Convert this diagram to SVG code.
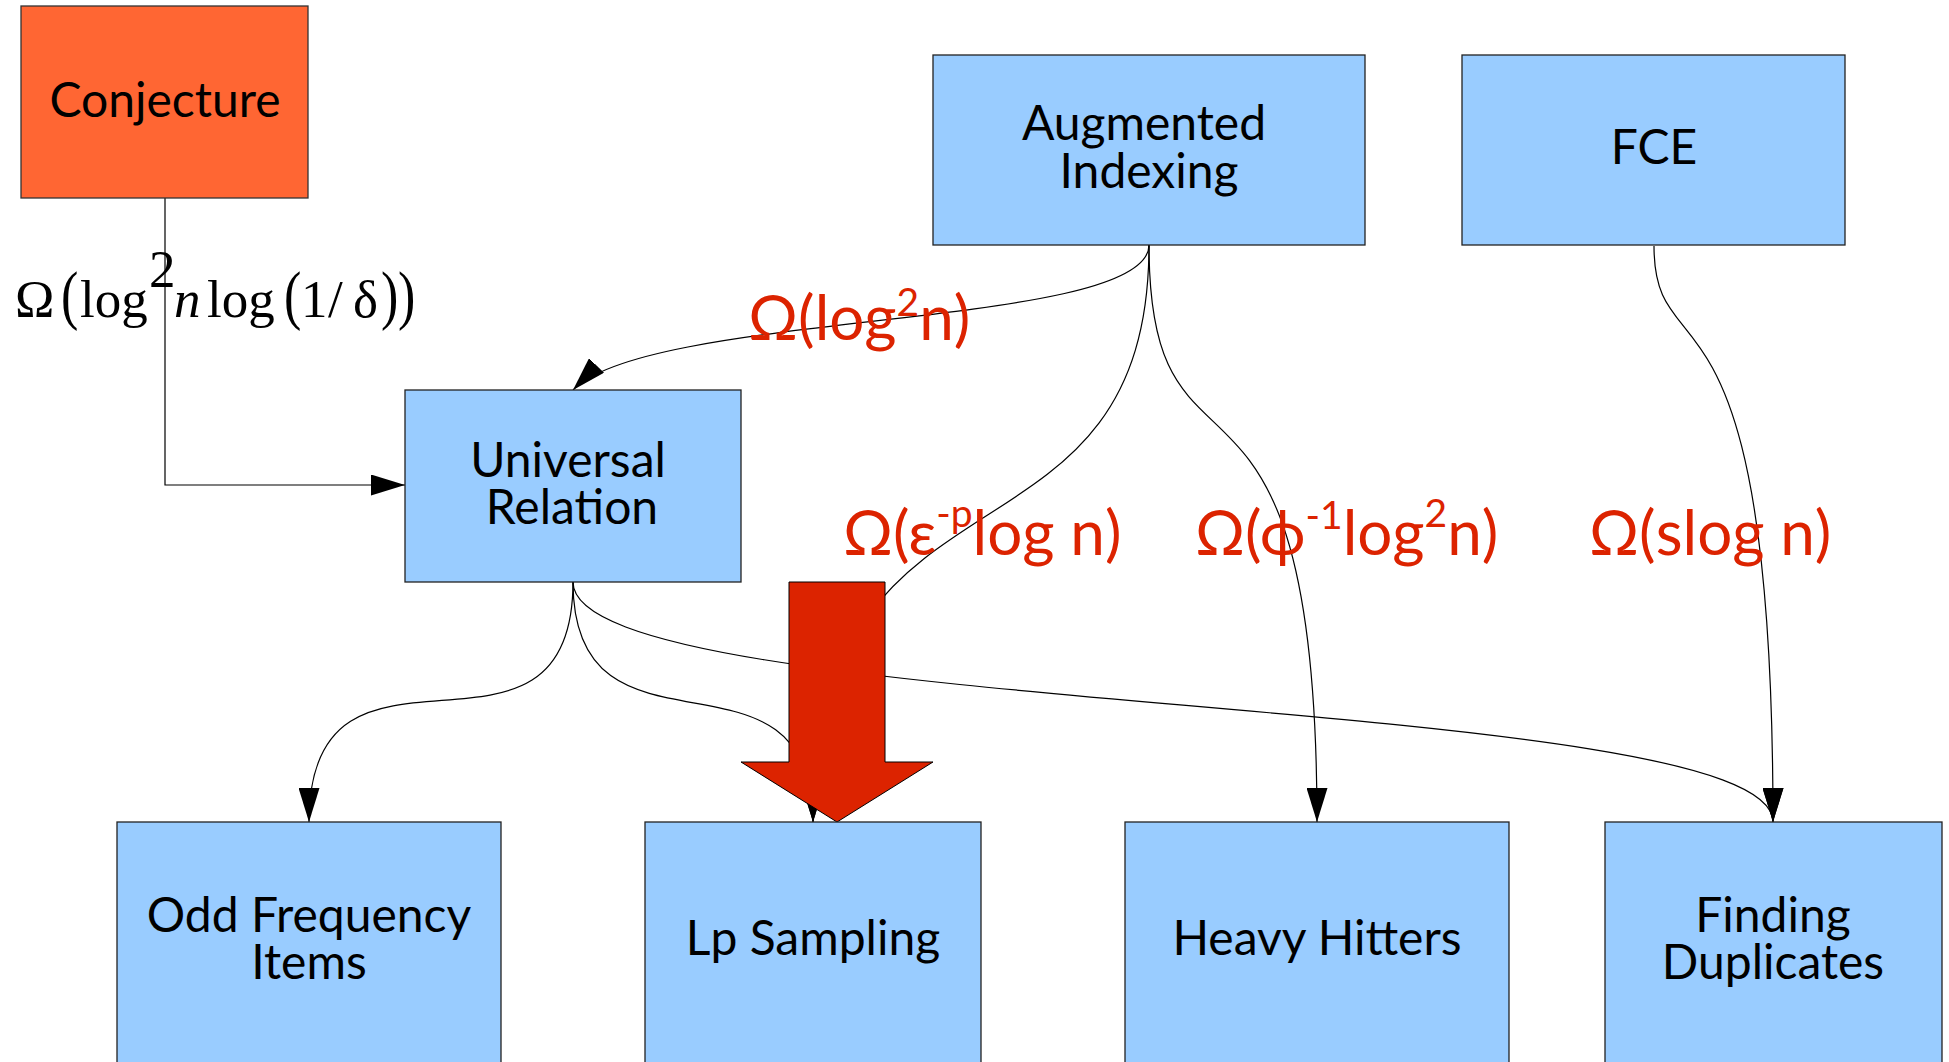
<svg xmlns="http://www.w3.org/2000/svg" width="1949" height="1062" viewBox="0 0 1949 1062">
<defs>
<marker id="ah" viewBox="0 0 34 21" refX="34" refY="10.5" markerWidth="34" markerHeight="21" markerUnits="userSpaceOnUse" orient="auto"><path d="M0,0 L34,10.5 L0,21 z" fill="#000"/></marker>
<style>
.box{fill:#99ccff;stroke:#222;stroke-width:1.3}
.hot{fill:#ff6633;stroke:#333;stroke-width:1.3}
.lbl{font-family:Lato,"Liberation Sans",sans-serif;font-size:48px;fill:#000;text-anchor:middle}
.red{font-family:Lato,"Liberation Sans",sans-serif;font-size:62px;fill:#dc2300}
.sup{font-size:39px}
.con{fill:none;stroke:#000;stroke-width:1.2;marker-end:url(#ah)}
.math{font-family:"Liberation Serif","DejaVu Serif",serif;font-size:53px;fill:#000}
.paren{font-family:"Liberation Serif","DejaVu Serif",serif;font-size:52px;fill:#000}
</style>
</defs>
<rect width="1949" height="1062" fill="#fff"/>
<g id="connectors">
<path class="con" d="M165,198 V485 H405"/>
<path class="con" d="M1149,245 C1149,330 650,310 573,390"/>
<path class="con" d="M1149,245 C1149,588 813,441 813,822"/>
<path class="con" d="M1149,245 C1149,520 1317,300 1317,822"/>
<path class="con" d="M1654,246 C1654,380 1773,250 1773,822"/>
<path class="con" d="M573,582 C573,800 309,600 309,822"/>
<path class="con" d="M573,582 C573,780 813,626 813,822"/>
<path class="con" d="M573,582 C573,720 1773,690 1773,822"/>
</g>
<g id="big-arrow">
<polygon points="789,582 885,582 885,762 933,762 837,822 741,762 789,762" fill="#dc2300" stroke="#000" stroke-width="1"/>
</g>
<g id="labels">
<g id="formula">
<text class="math" x="15" y="317">Ω</text>
<text class="paren" transform="translate(61,317) scale(1,1.25)">(</text>
<text class="math" x="80" y="317">log</text>
<text class="math" x="149" y="287" font-size="27">2</text>
<text class="math" x="174" y="317" font-style="italic">n</text>
<text class="math" x="207" y="317">log</text>
<text class="paren" transform="translate(284,317) scale(1,1.25)">(</text>
<text class="math" x="301" y="317">1</text>
<text class="math" x="328" y="317">/</text>
<text class="math" x="353" y="317">δ</text>
<text class="paren" transform="translate(381,317) scale(1,1.25)">)</text>
<text class="paren" transform="translate(398,317) scale(1,1.25)">)</text>
</g>
<text class="red" x="748" y="340">Ω(log<tspan class="sup" dy="-24">2</tspan><tspan dy="24">n)</tspan></text>
<text class="red" x="843" y="555">Ω(ε<tspan class="sup" dy="-28">-p</tspan><tspan dy="28">log n)</tspan></text>
<text class="red" x="1195" y="555">Ω(ϕ<tspan class="sup" dy="-26">-1</tspan><tspan dy="26">log</tspan><tspan class="sup" dy="-28">2</tspan><tspan dy="28">n)</tspan></text>
<text class="red" x="1589" y="555">Ω(slog n)</text>
</g>
<g id="conjecture"><rect class="hot" x="21" y="6" width="287" height="192"/><text class="lbl" x="165" y="117">Conjecture</text></g>
<g id="augmented-indexing"><rect class="box" x="933" y="55" width="432" height="190"/><text class="lbl" x="1144" y="140">Augmented</text><text class="lbl" x="1149" y="188">Indexing</text></g>
<g id="fce"><rect class="box" x="1462" y="55" width="383" height="190"/><text class="lbl" x="1654" y="164">FCE</text></g>
<g id="universal-relation"><rect class="box" x="405" y="390" width="336" height="192"/><text class="lbl" x="568" y="477">Universal</text><text class="lbl" x="572" y="524">Relation</text></g>
<g id="odd-frequency-items"><rect class="box" x="117" y="822" width="384" height="250"/><text class="lbl" x="309" y="932">Odd Frequency</text><text class="lbl" x="309" y="979">Items</text></g>
<g id="lp-sampling"><rect class="box" x="645" y="822" width="336" height="250"/><text class="lbl" x="813" y="955">Lp Sampling</text></g>
<g id="heavy-hitters"><rect class="box" x="1125" y="822" width="384" height="250"/><text class="lbl" x="1317" y="955">Heavy Hitters</text></g>
<g id="finding-duplicates"><rect class="box" x="1605" y="822" width="337" height="250"/><text class="lbl" x="1773" y="932">Finding</text><text class="lbl" x="1773" y="979">Duplicates</text></g>
</svg>
